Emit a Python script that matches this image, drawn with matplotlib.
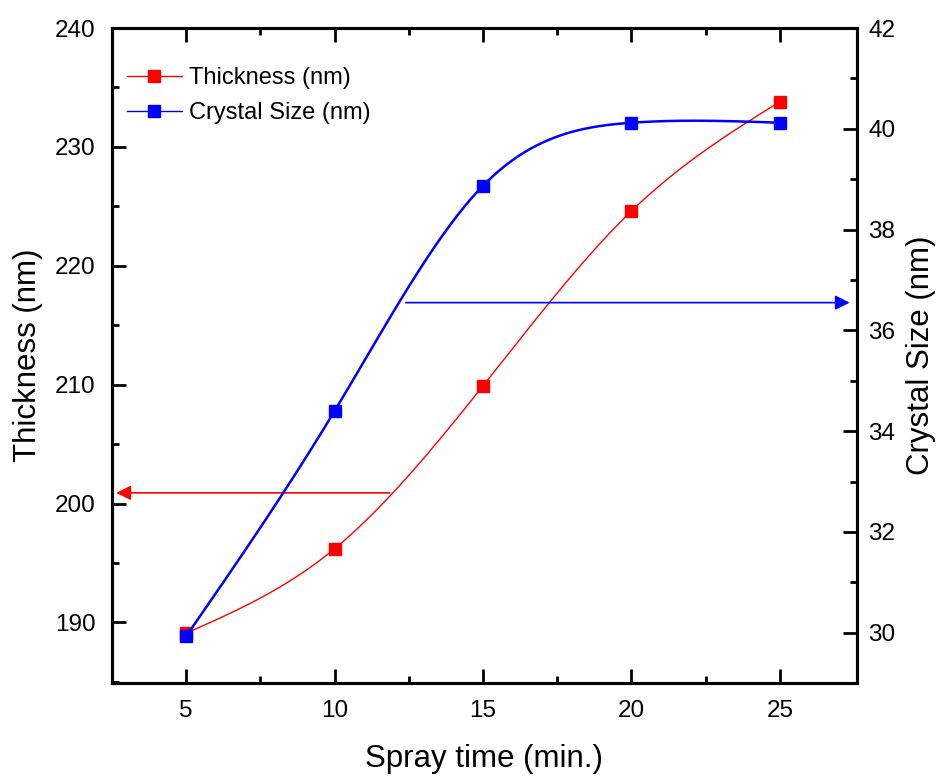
import numpy as np
import matplotlib.pyplot as plt

plt.rcParams['font.family'] = ['Liberation Sans', 'DejaVu Sans']

# Data
spray_time = [5, 10, 15, 20, 25]
thickness = [189.1, 196.2, 209.9, 224.6, 233.8]
crystal_size = [29.93, 34.4, 38.87, 40.12, 40.12]


def natural_spline(x, y, n=300):
    # natural cubic spline through the points, just for the smooth line
    x = np.asarray(x, float)
    y = np.asarray(y, float)
    k = len(x)
    h = np.diff(x)
    A = np.zeros((k, k))
    b = np.zeros(k)
    A[0, 0] = A[-1, -1] = 1
    for i in range(1, k - 1):
        A[i, i - 1] = h[i - 1]
        A[i, i] = 2 * (h[i - 1] + h[i])
        A[i, i + 1] = h[i]
        b[i] = 6 * ((y[i + 1] - y[i]) / h[i] - (y[i] - y[i - 1]) / h[i - 1])
    M = np.linalg.solve(A, b)
    xs = np.linspace(x[0], x[-1], n)
    idx = np.clip(np.searchsorted(x, xs) - 1, 0, k - 2)
    x0, x1 = x[idx], x[idx + 1]
    hh = x1 - x0
    t0 = x1 - xs
    t1 = xs - x0
    ys = (M[idx] * t0 ** 3 / (6 * hh) + M[idx + 1] * t1 ** 3 / (6 * hh)
          + (y[idx] / hh - M[idx] * hh / 6) * t0
          + (y[idx + 1] / hh - M[idx + 1] * hh / 6) * t1)
    return xs, ys


fig = plt.figure(figsize=(9.38, 7.78), dpi=100)
ax = fig.add_axes([0.1194, 0.122, 0.7942, 0.842])
ax2 = ax.twinx()

xs, ys = natural_spline(spray_time, thickness)
ax.plot(xs, ys, color='red', lw=1.0)
ax.plot(spray_time, thickness, 's', color='red', ms=8)

xs2, ys2 = natural_spline(spray_time, crystal_size)
ax2.plot(xs2, ys2, color='blue', lw=1.8)
ax2.plot(spray_time, crystal_size, 's', color='blue', ms=8)

ax.set_xlim(2.5, 27.6)
ax.set_ylim(184.9, 240)
ax2.set_ylim(29.0, 42)

ax.set_xticks([5, 10, 15, 20, 25])
ax.set_xticks([7.5, 12.5, 17.5, 22.5], minor=True)
ax.set_yticks([190, 200, 210, 220, 230, 240])
ax.set_yticks([185, 195, 205, 215, 225, 235], minor=True)
ax2.set_yticks([30, 32, 34, 36, 38, 40, 42])
ax2.set_yticks([29, 31, 33, 35, 37, 39, 41], minor=True)

ax.tick_params(axis='x', which='both', direction='in', top=True, labelsize=17.5, pad=12)
ax.tick_params(axis='y', which='both', direction='in', right=False, labelsize=17.5, pad=12)
ax2.tick_params(axis='y', which='both', direction='in', labelsize=17.5, pad=8)
for a in (ax, ax2):
    a.tick_params(which='major', length=10, width=2)
    a.tick_params(which='minor', length=5, width=2)
    for s in a.spines.values():
        s.set_linewidth(2.2)

ax.set_xlabel('Spray time (min.)', fontsize=22.5, labelpad=16)
ax.set_ylabel('Thickness (nm)', fontsize=22.5, labelpad=8)
ax2.set_ylabel('Crystal Size (nm)', fontsize=22.5, labelpad=8)

# arrows pointing to each axis
ax.annotate('', xy=(2.55, 200.9), xytext=(11.95, 200.9),
            arrowprops=dict(arrowstyle='-|>', color='red', lw=1.2, mutation_scale=22))
ax2.annotate('', xy=(27.45, 36.55), xytext=(12.3, 36.55),
             arrowprops=dict(arrowstyle='-|>', color='blue', lw=1.2, mutation_scale=22))

h1, = ax.plot([], [], '-s', color='red', lw=1.0, ms=8)
h2, = ax.plot([], [], '-s', color='blue', lw=1.0, ms=8)
ax.legend([h1, h2], ['Thickness (nm)', 'Crystal Size (nm)'], loc='upper left',
          bbox_to_anchor=(-0.008, 0.973), frameon=False, fontsize=17,
          handlelength=2.3, handletextpad=0.3, labelspacing=0.55)

fig.savefig('out.png', dpi=100)
